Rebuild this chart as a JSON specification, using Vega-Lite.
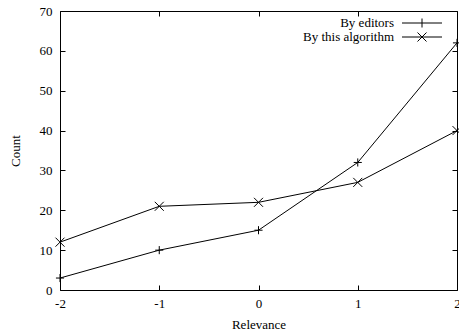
{
  "$schema": "https://vega.github.io/schema/vega-lite/v6.json",
  "width": 397,
  "height": 279,
  "autosize": "none",
  "padding": {"left": 60, "top": 11, "right": 2, "bottom": 44},
  "background": "white",
  "config": {
    "font": "Liberation Serif",
    "view": {"stroke": "black", "strokeWidth": 1},
    "axis": {
      "domain": false,
      "grid": false,
      "tickColor": "black",
      "tickSize": -5,
      "tickWidth": 1,
      "labelColor": "black",
      "labelFont": "Liberation Serif",
      "labelFontSize": 13,
      "titleFont": "Liberation Serif",
      "titleFontSize": 13,
      "titleFontWeight": "normal",
      "titleColor": "black"
    },
    "legend": {
      "labelFont": "Liberation Serif",
      "labelFontSize": 13,
      "labelColor": "black"
    }
  },
  "data": {
    "values": [
      {"relevance": -2, "count": 3, "series": "By editors"},
      {"relevance": -1, "count": 10, "series": "By editors"},
      {"relevance": 0, "count": 15, "series": "By editors"},
      {"relevance": 1, "count": 32, "series": "By editors"},
      {"relevance": 2, "count": 62, "series": "By editors"},
      {"relevance": -2, "count": 12, "series": "By this algorithm"},
      {"relevance": -1, "count": 21, "series": "By this algorithm"},
      {"relevance": 0, "count": 22, "series": "By this algorithm"},
      {"relevance": 1, "count": 27, "series": "By this algorithm"},
      {"relevance": 2, "count": 40, "series": "By this algorithm"}
    ]
  },
  "layer": [
    {
      "mark": {"type": "line", "color": "black", "strokeWidth": 1},
      "encoding": {
        "x": {
          "field": "relevance", "type": "quantitative",
          "scale": {"domain": [-2, 2], "nice": false, "zero": false},
          "axis": {"orient": "bottom", "title": "Relevance", "values": [-2, -1, 0, 1, 2], "labelExpr": "'' + datum.value", "labelPadding": 12, "titlePadding": 8, "labelFlush": false}
        },
        "y": {
          "field": "count", "type": "quantitative",
          "scale": {"domain": [0, 70], "nice": false},
          "axis": {"orient": "left", "title": "Count", "values": [0, 10, 20, 30, 40, 50, 60, 70], "labelPadding": 13, "titlePadding": 17, "labelFlush": false}
        },
        "detail": {"field": "series"}
      }
    },
    {
      "mark": {"type": "point", "filled": false, "stroke": "black", "strokeWidth": 1, "size": 81, "opacity": 1},
      "encoding": {
        "x": {
          "field": "relevance", "type": "quantitative",
          "axis": {"orient": "top", "title": null, "labels": false, "values": [-2, -1, 0, 1, 2]}
        },
        "y": {
          "field": "count", "type": "quantitative",
          "axis": {"orient": "right", "title": null, "labels": false, "values": [0, 10, 20, 30, 40, 50, 60, 70]}
        },
        "shape": {
          "field": "series", "type": "nominal",
          "scale": {
            "domain": ["By editors", "By this algorithm"],
            "range": ["M-0.9,0H0.9M0,-0.9V0.9", "M-1,-1L1,1M-1,1L1,-1"]
          },
          "legend": null
        }
      }
    },
    {
      "transform": [{"filter": "false"}],
      "mark": {"type": "point", "filled": false, "stroke": "black", "strokeWidth": 1, "size": 100, "opacity": 1},
      "encoding": {
        "x": {"field": "relevance", "type": "quantitative", "axis": null},
        "y": {"field": "count", "type": "quantitative", "axis": null},
        "shape": {
          "field": "series", "type": "nominal",
          "scale": {
            "domain": ["By editors", "By this algorithm"],
            "range": ["M-4,0H4M0,-0.9V0.9", "M-4,0H4M-0.9,-0.9L0.9,0.9M-0.9,0.9L0.9,-0.9"]
          },
          "legend": {
            "title": null,
            "orient": "none",
            "legendX": 355.5,
            "legendY": 5.5,
            "padding": 0,
            "rowPadding": -2,
            "symbolSize": 100,
            "symbolStrokeWidth": 1,
            "symbolStrokeColor": "black",
            "labelAlign": "right",
            "labelOffset": -34.5
          }
        }
      }
    }
  ],
  "resolve": {"axis": {"x": "independent", "y": "independent"}, "scale": {"shape": "independent"}}
}
